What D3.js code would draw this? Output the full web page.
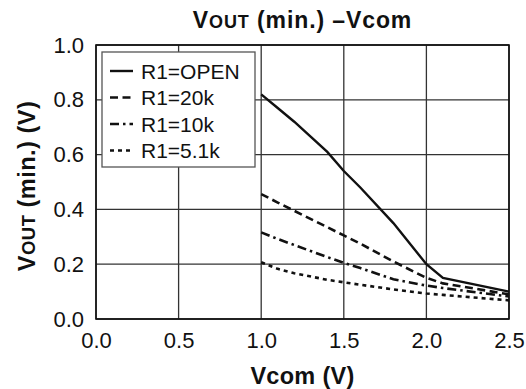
<!DOCTYPE html>
<html>
<head>
<meta charset="utf-8">
<script src="https://cdn.jsdelivr.net/npm/d3@7"></script>
<style>
  html, body { margin: 0; padding: 0; background: #fff; }
  text { font-family: "Liberation Sans", Arial, Helvetica, sans-serif; fill: #111; }
</style>
</head>
<body>
<div class="chart"></div>
<script>
// Vcom sample points (V), shared by all curves
const vcom = [1.0, 1.1, 1.2, 1.4, 1.5, 1.6, 1.8, 2.0, 2.1, 2.5];

// Vout(min.), one array per R1 value
const voutOpen = [0.82, 0.77, 0.72, 0.61, 0.54, 0.48, 0.35, 0.20, 0.15, 0.10];
const vout20k  = [0.456, 0.425, 0.395, 0.335, 0.305, 0.275, 0.21, 0.15, 0.13, 0.09];
const vout10k  = [0.316, 0.292, 0.27, 0.226, 0.205, 0.186, 0.145, 0.122, 0.113, 0.082];
const vout5k1  = [0.207, 0.183, 0.167, 0.143, 0.134, 0.125, 0.108, 0.093, 0.088, 0.068];

const seriesNames = ["R1=OPEN", "R1=20k", "R1=10k", "R1=5.1k"];
const xTicks = [0.0, 0.5, 1.0, 1.5, 2.0, 2.5];
const yTicks = [0.0, 0.2, 0.4, 0.6, 0.8, 1.0];

const width = 526, height = 389;
const margin = { top: 45, right: 17, bottom: 70, left: 96 };
const w = width - margin.left - margin.right;
const h = height - margin.top - margin.bottom;

const series = [
  { name: seriesNames[0], values: voutOpen, dash: null, sw: 2.4 },
  { name: seriesNames[1], values: vout20k, dash: "8,4.5", sw: 2.6 },
  { name: seriesNames[2], values: vout10k, dash: "9,4,2.5,4", sw: 2.6 },
  { name: seriesNames[3], values: vout5k1, dash: "4,4", sw: 2.6 }
];

const svg = d3.select(".chart").append("svg")
  .attr("width", width)
  .attr("height", height);

const g = svg.append("g")
  .attr("transform", "translate(" + margin.left + "," + margin.top + ")");

const x = d3.scaleLinear().domain([0, 2.5]).range([0, w]);
const y = d3.scaleLinear().domain([0, 1.0]).range([h, 0]);

// grid
g.append("g")
  .selectAll("line.vg")
  .data(xTicks)
  .enter().append("line")
    .attr("x1", d => x(d)).attr("x2", d => x(d))
    .attr("y1", 0).attr("y2", h)
    .attr("stroke", "#333").attr("stroke-width", 1.3);

g.append("g")
  .selectAll("line.hg")
  .data(yTicks)
  .enter().append("line")
    .attr("x1", 0).attr("x2", w)
    .attr("y1", d => y(d)).attr("y2", d => y(d))
    .attr("stroke", "#333").attr("stroke-width", 1.3);

// axes (labels only, the grid does the lines)
const xAxis = g.append("g")
  .attr("transform", "translate(0," + h + ")")
  .call(d3.axisBottom(x).tickValues(xTicks).tickFormat(d3.format(".1f")).tickSize(0).tickPadding(13));
const yAxis = g.append("g")
  .call(d3.axisLeft(y).tickValues(yTicks).tickFormat(d3.format(".1f")).tickSize(0).tickPadding(12));
[xAxis, yAxis].forEach(a => {
  a.select(".domain").remove();
  a.selectAll("text")
    .style("font-family", '"Liberation Sans", Arial, sans-serif')
    .style("font-size", "22px")
    .attr("fill", "#111");
});

// curves
const line = d3.line()
  .x(d => x(d[0]))
  .y(d => y(d[1]));

g.selectAll("path.curve")
  .data(series)
  .enter().append("path")
    .attr("class", "curve")
    .attr("d", s => line(vcom.map((v, i) => [v, s.values[i]])))
    .attr("fill", "none")
    .attr("stroke", "#111")
    .attr("stroke-width", s => s.sw)
    .attr("stroke-dasharray", s => s.dash);

// frame
g.append("rect")
  .attr("width", w).attr("height", h)
  .attr("fill", "none")
  .attr("stroke", "#111")
  .attr("stroke-width", 1.6);

// legend
const lg = g.append("g").attr("transform", "translate(6,7)");
lg.append("rect")
  .attr("width", 153).attr("height", 115)
  .attr("fill", "#fff")
  .attr("stroke", "#555")
  .attr("stroke-width", 1.3);

const rows = lg.selectAll("g.row")
  .data(series)
  .enter().append("g")
    .attr("transform", (d, i) => "translate(0," + (19 + i * 26.5) + ")");

rows.append("line")
  .attr("x1", 8).attr("x2", 31)
  .attr("stroke", "#111")
  .attr("stroke-width", s => s.sw)
  .attr("stroke-dasharray", s => s.dash);

rows.append("text")
  .attr("x", 39)
  .attr("dy", "0.36em")
  .style("font-size", "21px")
  .text(s => s.name);

// title
const title = svg.append("text")
  .attr("x", margin.left + w / 2)
  .attr("y", 28)
  .attr("text-anchor", "middle")
  .style("font-size", "23px")
  .style("font-weight", "bold")
  .style("letter-spacing", "0.9px");
title.append("tspan").text("V");
title.append("tspan").style("font-size", "18px").text("OUT");
title.append("tspan").text(" (min.) \u2013Vcom");

// x label
svg.append("text")
  .attr("x", margin.left + w / 2)
  .attr("y", 384)
  .attr("text-anchor", "middle")
  .style("font-size", "23.5px")
  .style("font-weight", "bold")
  .style("letter-spacing", "0.3px")
  .text("Vcom (V)");

// y label
const yl = svg.append("text")
  .attr("transform", "translate(35,186) rotate(-90)")
  .attr("text-anchor", "middle")
  .style("font-size", "23.5px")
  .style("font-weight", "bold")
  .style("letter-spacing", "0.5px");
yl.append("tspan").text("V");
yl.append("tspan").style("font-size", "18.5px").text("OUT");
yl.append("tspan").text(" (min.) (V)");
</script>
</body>
</html>
